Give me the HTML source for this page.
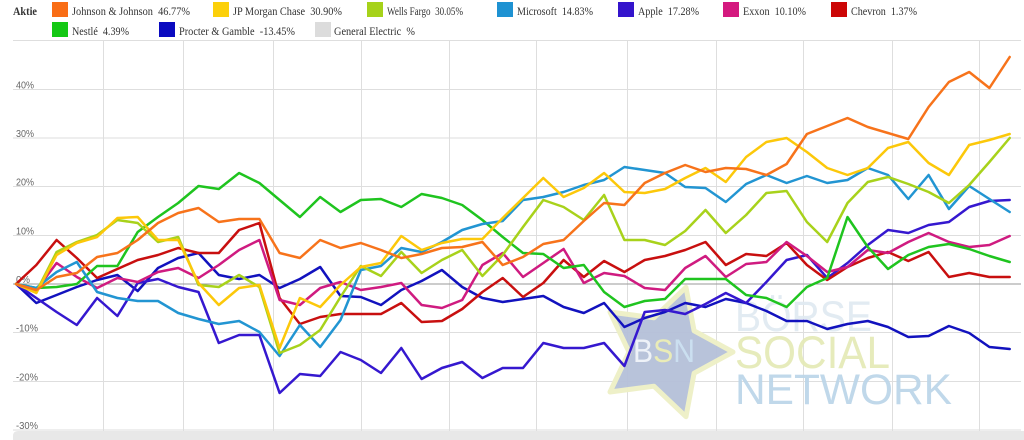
<!DOCTYPE html>
<html>
<head>
<meta charset="utf-8">
<style>
html,body{margin:0;padding:0;background:#fff;}
svg{display:block;}
.lg{font-family:"Liberation Serif",serif;font-size:11.5px;fill:#333;}
.ax{font-family:"Liberation Sans",sans-serif;font-size:10.5px;fill:#666;}
.s{fill:none;stroke-width:2.5;stroke-linejoin:round;stroke-linecap:round;}
</style>
</head>
<body>
<svg width="1024" height="440" viewBox="0 0 1024 440" xmlns="http://www.w3.org/2000/svg">
<!-- Legend -->
<text x="13" y="15" font-family="Liberation Serif, serif" font-size="11.5" font-weight="bold" fill="#333" textLength="24" lengthAdjust="spacingAndGlyphs">Aktie</text>

<rect x="52" y="2" width="16" height="15" fill="#f96d15"/>
<text class="lg" x="72" y="15" textLength="118" lengthAdjust="spacingAndGlyphs">Johnson &amp; Johnson&#160; 46.77%</text>
<rect x="213" y="2" width="16" height="15" fill="#fcd00a"/>
<text class="lg" x="233" y="15" textLength="109" lengthAdjust="spacingAndGlyphs">JP Morgan Chase&#160; 30.90%</text>
<rect x="367" y="2" width="16" height="15" fill="#a6d21a"/>
<text class="lg" x="387" y="15" textLength="76" lengthAdjust="spacingAndGlyphs">Wells Fargo&#160; 30.05%</text>
<rect x="497" y="2" width="16" height="15" fill="#1e92d2"/>
<text class="lg" x="517" y="15" textLength="76" lengthAdjust="spacingAndGlyphs">Microsoft&#160; 14.83%</text>
<rect x="618" y="2" width="16" height="15" fill="#3414cc"/>
<text class="lg" x="638" y="15" textLength="61" lengthAdjust="spacingAndGlyphs">Apple&#160; 17.28%</text>
<rect x="723" y="2" width="16" height="15" fill="#d4197f"/>
<text class="lg" x="743" y="15" textLength="63" lengthAdjust="spacingAndGlyphs">Exxon&#160; 10.10%</text>
<rect x="831" y="2" width="16" height="15" fill="#cc0606"/>
<text class="lg" x="851" y="15" textLength="66" lengthAdjust="spacingAndGlyphs">Chevron&#160; 1.37%</text>

<rect x="52" y="22" width="16" height="15" fill="#14c814"/>
<text class="lg" x="72" y="35" textLength="57" lengthAdjust="spacingAndGlyphs">Nestlé&#160; 4.39%</text>
<rect x="159" y="22" width="16" height="15" fill="#0a0ac0"/>
<text class="lg" x="179" y="35" textLength="116" lengthAdjust="spacingAndGlyphs">Procter &amp; Gamble&#160; -13.45%</text>
<rect x="315" y="22" width="16" height="15" fill="#dcdcdc"/>
<text class="lg" x="334" y="35" textLength="81" lengthAdjust="spacingAndGlyphs">General Electric&#160; %</text>

<!-- Grid -->
<g stroke="#dedede" stroke-width="1">
<line x1="13" y1="40.5" x2="1021" y2="40.5"/>
<line x1="13" y1="89.5" x2="1021" y2="89.5"/>
<line x1="13" y1="138" x2="1021" y2="138"/>
<line x1="13" y1="186.5" x2="1021" y2="186.5"/>
<line x1="13" y1="235.5" x2="1021" y2="235.5"/>
<line x1="13" y1="332.5" x2="1021" y2="332.5"/>
<line x1="13" y1="381.5" x2="1021" y2="381.5"/>
<line x1="13" y1="430" x2="1021" y2="430"/>
<line x1="103.5" y1="41" x2="103.5" y2="440"/>
<line x1="183.5" y1="41" x2="183.5" y2="440"/>
<line x1="273.5" y1="41" x2="273.5" y2="440"/>
<line x1="361.5" y1="41" x2="361.5" y2="440"/>
<line x1="449.5" y1="41" x2="449.5" y2="440"/>
<line x1="536.5" y1="41" x2="536.5" y2="440"/>
<line x1="627.5" y1="41" x2="627.5" y2="440"/>
<line x1="716.5" y1="41" x2="716.5" y2="440"/>
<line x1="803.5" y1="41" x2="803.5" y2="440"/>
<line x1="892.5" y1="41" x2="892.5" y2="440"/>
<line x1="979.5" y1="41" x2="979.5" y2="440"/>
</g>
<line x1="13" y1="284" x2="1021" y2="284" stroke="#9a9a9a" stroke-width="1"/>

<!-- bottom band -->
<path d="M13,440 L13,436 Q13,431 18,431 L1024,431 L1024,440 Z" fill="#e8e8e8"/>

<!-- axis labels -->
<text class="ax" x="16" y="88.5" textLength="18" lengthAdjust="spacingAndGlyphs">40%</text>
<text class="ax" x="16" y="137" textLength="18" lengthAdjust="spacingAndGlyphs">30%</text>
<text class="ax" x="16" y="185.5" textLength="18" lengthAdjust="spacingAndGlyphs">20%</text>
<text class="ax" x="16" y="234.5" textLength="18" lengthAdjust="spacingAndGlyphs">10%</text>
<text class="ax" x="16" y="283" textLength="14" lengthAdjust="spacingAndGlyphs">0%</text>
<text class="ax" x="16" y="331.5" textLength="22" lengthAdjust="spacingAndGlyphs">-10%</text>
<text class="ax" x="16" y="380.5" textLength="22" lengthAdjust="spacingAndGlyphs">-20%</text>
<text class="ax" x="16" y="429" textLength="22" lengthAdjust="spacingAndGlyphs">-30%</text>

<!-- Watermark -->
<g opacity="0.95">
<polygon points="733,352 694.1,373.2 686,416.7 653.9,386.2 610,392 629,352 610,312 653.9,317.8 686,287.3 694.1,330.8" fill="#b5c0d9" stroke="#eef0c6" stroke-width="5" stroke-linejoin="round"/>
<text x="633" y="362" font-family="Liberation Sans, sans-serif" font-size="32" textLength="62" lengthAdjust="spacingAndGlyphs"><tspan fill="#eef2f8">B</tspan><tspan fill="#e9ecb4">S</tspan><tspan fill="#c9def0">N</tspan></text>
<text x="735" y="331" font-family="Liberation Sans, sans-serif" font-size="43" fill="#e1eaf2" textLength="137" lengthAdjust="spacingAndGlyphs">BÖRSE</text>
<text x="735" y="368" font-family="Liberation Sans, sans-serif" font-size="45" fill="#e5eab8" textLength="155" lengthAdjust="spacingAndGlyphs">SOCIAL</text>
<text x="735" y="404" font-family="Liberation Sans, sans-serif" font-size="43" fill="#bdd6e9" textLength="217" lengthAdjust="spacingAndGlyphs">NETWORK</text>
</g>

<!-- Series -->
<!-- Procter & Gamble -->
<polyline class="s" stroke="#1212be" points="16,284 36.3,303 56.6,295 76.8,287 97.1,280 117.4,275 137.7,291 158,268 178.2,258 198.5,253 218.8,275 239.1,279 259.4,275 279.6,288 299.9,279 320.2,267 340.5,296 360.8,297 381,305 401.3,290 421.6,281 441.9,270 462.2,287 482.4,298 502.7,302 523,299 543.3,296 563.6,307 583.8,313 604.1,303 624.4,327 644.7,318 665,312 685.2,303 705.5,307 725.8,299 746.1,303 766.4,311 786.6,321 806.9,321 827.2,329 847.5,324 867.8,321 888,327 908.3,337 928.6,336 948.9,326 969.2,333 989.4,347 1009.7,349"/>
<!-- Apple -->
<polyline class="s" stroke="#3518cf" points="16,284 36.3,298 56.6,312 76.8,325 97.1,298 117.4,316 137.7,283 158,279 178.2,287 198.5,292 218.8,343 239.1,335 259.4,335 279.6,393 299.9,374 320.2,376 340.5,352 360.8,360 381,373 401.3,348 421.6,379 441.9,368 462.2,362 482.4,378 502.7,368 523,368 543.3,343 563.6,348 583.8,348 604.1,343 624.4,366 644.7,312 665,310 685.2,314 705.5,304 725.8,293 746.1,303 766.4,282 786.6,260 806.9,255 827.2,278 847.5,263 867.8,245 888,230 908.3,233 928.6,225 948.9,222 969.2,207 989.4,201 1009.7,200"/>
<!-- Chevron -->
<polyline class="s" stroke="#c80f0f" points="16,284 36.3,265 56.6,240 76.8,258 97.1,278 117.4,269 137.7,260 158,255 178.2,248 198.5,253 218.8,253 239.1,230 259.4,223 279.6,298 299.9,324 320.2,317 340.5,314 360.8,314 381,314 401.3,303 421.6,322 441.9,321 462.2,309 482.4,292 502.7,278 523,297 543.3,283 563.6,260 583.8,277 604.1,261 624.4,272 644.7,260 665,256 685.2,250 705.5,242 725.8,265 746.1,254 766.4,256 786.6,243 806.9,265 827.2,280 847.5,267 867.8,258 888,252 908.3,261 928.6,252 948.9,277 969.2,273 989.4,277 1009.7,277"/>
<!-- Exxon -->
<polyline class="s" stroke="#cf1b80" points="16,284 36.3,290 56.6,263 76.8,277 97.1,288 117.4,278 137.7,282 158,272 178.2,268 198.5,278 218.8,265 239.1,250 259.4,240 279.6,300 299.9,305 320.2,288 340.5,282 360.8,290 381,287 401.3,283 421.6,305 441.9,308 462.2,300 482.4,265 502.7,253 523,277 543.3,263 563.6,249 583.8,283 604.1,273 624.4,276 644.7,288 665,290 685.2,268 705.5,256 725.8,277 746.1,264 766.4,262 786.6,242 806.9,256 827.2,272 847.5,267 867.8,250 888,253 908.3,242 928.6,233 948.9,242 969.2,247 989.4,245 1009.7,236"/>
<!-- Nestle -->
<polyline class="s" stroke="#1fc41f" points="16,284 36.3,288 56.6,287 76.8,284 97.1,266 117.4,266 137.7,232 158,217 178.2,203 198.5,186 218.8,189 239.1,173 259.4,183 279.6,200 299.9,217 320.2,197 340.5,212 360.8,200 381,199 401.3,207 421.6,194 441.9,198 462.2,205 482.4,220 502.7,237 523,253 543.3,254 563.6,268 583.8,265 604.1,292 624.4,307 644.7,301 665,299 685.2,279 705.5,279 725.8,279 746.1,295 766.4,298 786.6,307 806.9,287 827.2,278 847.5,217 867.8,247 888,269 908.3,255 928.6,247 948.9,244 969.2,249 989.4,256 1009.7,262"/>
<!-- Microsoft -->
<polyline class="s" stroke="#2295d2" points="16,284 36.3,288 56.6,272 76.8,262 97.1,292 117.4,298 137.7,301 158,301 178.2,313 198.5,319 218.8,324 239.1,321 259.4,332 279.6,356 299.9,325 320.2,347 340.5,320 360.8,270 381,266 401.3,248 421.6,252 441.9,242 462.2,230 482.4,224 502.7,221 523,200 543.3,197 563.6,192 583.8,185 604.1,180 624.4,167 644.7,170 665,173 685.2,187 705.5,188 725.8,202 746.1,184 766.4,175 786.6,183 806.9,176 827.2,183 847.5,180 867.8,168 888,175 908.3,199 928.6,175 948.9,209 969.2,186 989.4,199 1009.7,212"/>
<!-- Wells Fargo -->
<polyline class="s" stroke="#a8d21b" points="16,284 36.3,292 56.6,252 76.8,242 97.1,235 117.4,220 137.7,223 158,242 178.2,237 198.5,285 218.8,287 239.1,275 259.4,287 279.6,353 299.9,345 320.2,330 340.5,297 360.8,266 381,276 401.3,252 421.6,273 441.9,260 462.2,250 482.4,276 502.7,255 523,227 543.3,200 563.6,207 583.8,220 604.1,195 624.4,240 644.7,240 665,245 685.2,231 705.5,210 725.8,233 746.1,215 766.4,193 786.6,191 806.9,222 827.2,242 847.5,203 867.8,182 888,177 908.3,184 928.6,192 948.9,203 969.2,185 989.4,162 1009.7,138"/>
<!-- JP Morgan -->
<polyline class="s" stroke="#fcc80a" points="16,284 36.3,293 56.6,255 76.8,243 97.1,237 117.4,218 137.7,217 158,240 178.2,240 198.5,283 218.8,305 239.1,288 259.4,285 279.6,348 299.9,298 320.2,307 340.5,285 360.8,267 381,263 401.3,236 421.6,250 441.9,243 462.2,239 482.4,239 502.7,218 523,198 543.3,178 563.6,197 583.8,188 604.1,173 624.4,192 644.7,193 665,189 685.2,178 705.5,168 725.8,182 746.1,157 766.4,142 786.6,138 806.9,152 827.2,168 847.5,175 867.8,168 888,148 908.3,142 928.6,163 948.9,175 969.2,145 989.4,140 1009.7,134"/>
<!-- Johnson & Johnson -->
<polyline class="s" stroke="#f7731b" points="16,284 36.3,290 56.6,277 76.8,273 97.1,257 117.4,253 137.7,240 158,223 178.2,213 198.5,208 218.8,222 239.1,219 259.4,219 279.6,253 299.9,258 320.2,240 340.5,248 360.8,243 381,250 401.3,258 421.6,254 441.9,248 462.2,247 482.4,242 502.7,265 523,257 543.3,244 563.6,240 583.8,221 604.1,203 624.4,205 644.7,183 665,173 685.2,165 705.5,172 725.8,168 746.1,169 766.4,175 786.6,164 806.9,134 827.2,126 847.5,118 867.8,127 888,133 908.3,139 928.6,107 948.9,82 969.2,72 989.4,88 1009.7,57"/>
</svg>
</body>
</html>
